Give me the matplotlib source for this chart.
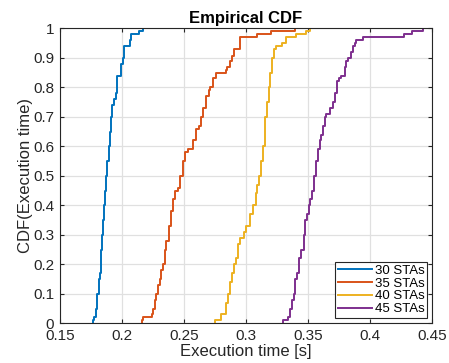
import matplotlib
matplotlib.use("Agg")
import matplotlib.pyplot as plt

plt.rcParams['font.family'] = ['Liberation Sans', 'DejaVu Sans']

labels = ["30 STAs", "35 STAs", "40 STAs", "45 STAs"]
colors = ["#0072BD", "#D95319", "#EDB120", "#7E2F8E"]

# step locations (execution time) and CDF value after each step
x30 = [0.1765, 0.1778, 0.1794, 0.1802, 0.1813, 0.1821, 0.1829, 0.1836, 0.1843, 0.1851,
       0.1859, 0.1866, 0.1872, 0.1883, 0.1894, 0.1902, 0.1910, 0.1920, 0.1936, 0.1950,
       0.1958, 0.1990, 0.2006, 0.2017, 0.2065, 0.2070, 0.2140, 0.2172]
f30 = [0.01, 0.02, 0.05, 0.10, 0.15, 0.17, 0.20, 0.25, 0.30, 0.35,
       0.40, 0.45, 0.50, 0.55, 0.60, 0.65, 0.70, 0.74, 0.76, 0.78,
       0.84, 0.88, 0.90, 0.94, 0.96, 0.98, 0.99, 1.00]

x35 = [0.2159, 0.2167, 0.2239, 0.2253, 0.2266, 0.2279, 0.2293, 0.2306, 0.2318, 0.2328,
       0.2344, 0.2352, 0.2381, 0.2398, 0.2415, 0.2432, 0.2454, 0.2472, 0.2496, 0.2510,
       0.2534, 0.2574, 0.2601, 0.2620, 0.2641, 0.2655, 0.2681, 0.2700, 0.2713, 0.2735,
       0.2756, 0.2837, 0.2847, 0.2869, 0.2888, 0.2904, 0.2949, 0.3089, 0.3204, 0.3392]
f35 = [0.01, 0.02, 0.03, 0.05, 0.08, 0.10, 0.13, 0.15, 0.18, 0.20,
       0.25, 0.28, 0.33, 0.38, 0.42, 0.45, 0.46, 0.50, 0.55, 0.58,
       0.59, 0.62, 0.66, 0.67, 0.70, 0.73, 0.77, 0.79, 0.80, 0.83,
       0.85, 0.86, 0.87, 0.89, 0.905, 0.93, 0.97, 0.98, 0.99, 1.00]

x40 = [0.2754, 0.2802, 0.2837, 0.2842, 0.2858, 0.2869, 0.2885, 0.2901, 0.2917, 0.2936,
       0.2955, 0.2981, 0.3003, 0.3030, 0.3056, 0.3078, 0.3089, 0.3105, 0.3123, 0.3137,
       0.3150, 0.3155, 0.3169, 0.3185, 0.3196, 0.3212, 0.3223, 0.3244, 0.3292, 0.3324,
       0.3405, 0.3485, 0.3512]
f40 = [0.01, 0.03, 0.05, 0.07, 0.10, 0.14, 0.17, 0.20, 0.22, 0.27,
       0.29, 0.31, 0.33, 0.37, 0.40, 0.44, 0.47, 0.50, 0.55, 0.60,
       0.65, 0.70, 0.75, 0.80, 0.85, 0.90, 0.93, 0.94, 0.95, 0.97,
       0.98, 0.99, 1.00]

x45 = [0.3298, 0.3338, 0.3357, 0.3373, 0.3384, 0.3394, 0.3413, 0.3426, 0.3445, 0.3464,
       0.3474, 0.3491, 0.3505, 0.3517, 0.3530, 0.3544, 0.3560, 0.3579, 0.3592, 0.3606,
       0.3619, 0.3633, 0.3646, 0.3673, 0.3700, 0.3713, 0.3732, 0.3748, 0.3767, 0.3793,
       0.3807, 0.3820, 0.3847, 0.3860, 0.3874, 0.3887, 0.3941, 0.4268, 0.4335, 0.4423,
       0.4455]
f45 = [0.01, 0.02, 0.05, 0.08, 0.10, 0.15, 0.17, 0.22, 0.25, 0.30,
       0.35, 0.37, 0.40, 0.42, 0.45, 0.50, 0.55, 0.59, 0.62, 0.64,
       0.67, 0.70, 0.71, 0.73, 0.75, 0.78, 0.82, 0.83, 0.84, 0.87,
       0.89, 0.90, 0.92, 0.94, 0.95, 0.96, 0.97, 0.98, 0.99, 1.00]

xs = [x30, x35, x40, x45]
fs = [f30, f35, f40, f45]

xticks = [0.15, 0.2, 0.25, 0.3, 0.35, 0.4, 0.45]
xticklabels = ["0.15", "0.2", "0.25", "0.3", "0.35", "0.4", "0.45"]
yticks = [0, 0.1, 0.2, 0.3, 0.4, 0.5, 0.6, 0.7, 0.8, 0.9, 1]
yticklabels = ["0", "0.1", "0.2", "0.3", "0.4", "0.5", "0.6", "0.7", "0.8", "0.9", "1"]

fig = plt.figure(figsize=(4.49, 3.63), dpi=100)
ax = fig.add_axes([0.133, 0.1094, 0.830, 0.8126])

for x, f, c, lab in zip(xs, fs, colors, labels):
    n = min(len(x), len(f))
    px = [x[0]] + list(x[:n])
    py = [0.0] + list(f[:n])
    ax.plot(px, py, drawstyle='steps-post', color=c, lw=1.4, label=lab)

ax.set_xlim(0.15, 0.45)
ax.set_ylim(0, 1)
ax.set_xticks(xticks)
ax.set_xticklabels(xticklabels)
ax.set_yticks(yticks)
ax.set_yticklabels(yticklabels)
ax.grid(True, color='#e0e0e0', lw=0.9)
ax.set_axisbelow(True)
axc = '#262626'
for s in ax.spines.values():
    s.set_color(axc)
    s.set_linewidth(0.8)
ax.tick_params(direction='in', length=3, width=0.8, colors=axc, labelsize=11,
               top=True, right=True)
ax.tick_params(axis='x', pad=4)
ax.tick_params(axis='y', pad=4)
ax.set_title("Empirical CDF", fontsize=12, fontweight='bold', pad=4)
ax.set_xlabel("Execution time [s]", fontsize=12, color=axc, labelpad=1)
ax.set_ylabel("CDF(Execution time)", fontsize=12, color=axc, labelpad=0)

leg = ax.legend(loc='lower right', fontsize=9.5, frameon=True, fancybox=False,
                edgecolor=axc, framealpha=1, borderpad=0.2, labelspacing=0.05,
                handlelength=2.6, handletextpad=0.2, borderaxespad=0.4)
leg.get_frame().set_linewidth(0.8)

fig.savefig("out.png", dpi=100)
